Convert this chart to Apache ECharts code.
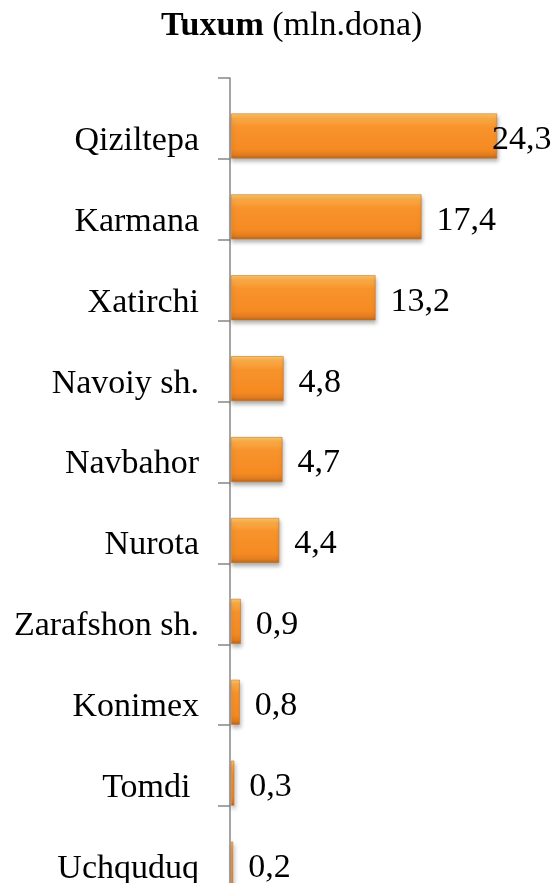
<!DOCTYPE html>
<html>
<head>
<meta charset="utf-8">
<script src="https://cdn.jsdelivr.net/npm/echarts@6/dist/echarts.min.js"></script>
<style>
html,body{margin:0;padding:0;background:#fff;}
#chart{width:554px;height:883px;}
</style>
</head>
<body>
<div id="chart"></div>
<script>
var categories = ['Qiziltepa', 'Karmana', 'Xatirchi', 'Navoiy sh.', 'Navbahor', 'Nurota', 'Zarafshon sh.', 'Konimex', 'Tomdi ', 'Uchquduq'];
var values = [24.3, 17.4, 13.2, 4.8, 4.7, 4.4, 0.9, 0.8, 0.3, 0.2];
var titleMain = 'Tuxum';
var titleUnit = '(mln.dona)';

var FONT = 'Liberation Serif';

var barColor = {
  type: 'linear', x: 0, y: 0, x2: 0, y2: 1,
  colorStops: [
    {offset: 0, color: '#FDC868'},
    {offset: 0.12, color: '#FBA945'},
    {offset: 0.3, color: '#F8932C'},
    {offset: 0.8, color: '#F58A22'},
    {offset: 0.92, color: '#E27C20'},
    {offset: 1, color: '#B4661C'}
  ]
};

var seriesData = values.map(function (v, i) {
  var item = {value: v};
  if (i === 0) {
    item.label = {distance: -5};
  }
  return item;
});

var chart = echarts.init(document.getElementById('chart'), null, {renderer: 'canvas'});
chart.setOption({
  backgroundColor: '#ffffff',
  animation: false,
  title: {
    text: '{b|' + titleMain + '}{n| ' + titleUnit + '}',
    left: 156,
    top: 4,
    textStyle: {
      fontFamily: FONT,
      fontSize: 34,
      rich: {
        b: {fontFamily: FONT, fontSize: 34, fontWeight: 'bold', color: '#000'},
        n: {fontFamily: FONT, fontSize: 34, fontWeight: 'normal', color: '#000'}
      }
    }
  },
  grid: [
    {left: 231, top: 95.5, width: 328.5, height: 809, outerBoundsMode: 'none', containLabel: false},
    {left: 230, top: 78, width: 328.5, height: 809, outerBoundsMode: 'none', containLabel: false}
  ],
  xAxis: [
    {gridIndex: 0, type: 'value', min: 0, max: 30, show: false},
    {gridIndex: 1, type: 'value', min: 0, max: 1, show: false}
  ],
  yAxis: [
    {
      gridIndex: 0, type: 'category', inverse: true, data: categories,
      axisLine: {show: false}, axisTick: {show: false}, splitLine: {show: false},
      axisLabel: {
        margin: 32,
        formatter: function (v) { return '{a|' + v + '}'; },
        rich: {a: {fontFamily: FONT, fontSize: 34, color: '#000', padding: [10, 0, 0, 0]}}
      }
    },
    {
      gridIndex: 1, type: 'category', inverse: true, data: categories,
      axisLine: {show: true, lineStyle: {color: '#878787', width: 1.5}},
      axisTick: {show: true, length: 12, lineStyle: {color: '#878787', width: 1.5}},
      axisLabel: {show: false}, splitLine: {show: false}
    }
  ],
  series: [{
    type: 'bar',
    xAxisIndex: 0, yAxisIndex: 0,
    data: seriesData,
    barWidth: 45,
    itemStyle: {
      color: barColor,
      borderColor: '#C9772A',
      borderWidth: 0.6,
      shadowColor: 'rgba(0,0,0,0.3)',
      shadowBlur: 4,
      shadowOffsetX: 1,
      shadowOffsetY: 3
    },
    label: {
      show: true,
      position: 'right',
      distance: 15,
      offset: [0, 4],
      fontFamily: FONT,
      fontSize: 34,
      color: '#000',
      formatter: function (p) { return p.value.toFixed(1).replace('.', ','); }
    }
  }]
});
</script>
</body>
</html>
